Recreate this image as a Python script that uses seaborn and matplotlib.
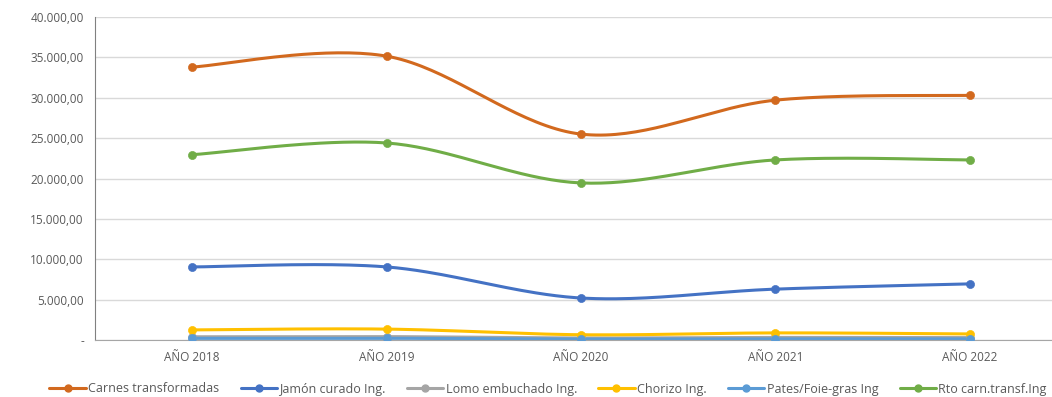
import numpy as np
import pandas as pd
import matplotlib
matplotlib.use("Agg")
import matplotlib.pyplot as plt
import seaborn as sns

years = ["AÑO 2018", "AÑO 2019", "AÑO 2020", "AÑO 2021", "AÑO 2022"]
carnes = [33800, 35150, 25500, 29700, 30300]
jamon = [9050, 9050, 5200, 6300, 6950]
lomo = [400, 420, 250, 320, 300]
chorizo = [1250, 1350, 650, 880, 750]
pates = [200, 210, 120, 150, 140]
rto = [22950, 24400, 19450, 22300, 22300]

series = {
    "Carnes transformadas": (carnes, "#D2691E"),
    "Jamón curado Ing.": (jamon, "#4472C4"),
    "Lomo embuchado Ing.": (lomo, "#A5A5A5"),
    "Chorizo Ing.": (chorizo, "#FFC000"),
    "Pates/Foie-gras Ing": (pates, "#5B9BD5"),
    "Rto carn.transf.Ing": (rto, "#70AD47"),
}


def smooth(y, n=40):
    # Catmull-Rom curve through the points, like Excel's smoothed line
    y = np.asarray(y, dtype=float)
    x = np.arange(len(y), dtype=float)
    px = np.concatenate([[x[0]], x, [x[-1]]])
    py = np.concatenate([[y[0]], y, [y[-1]]])
    xs, ys = [], []
    for i in range(1, len(px) - 2):
        t = np.linspace(0, 1, n)
        for p, out in ((px, xs), (py, ys)):
            p0, p1, p2, p3 = p[i - 1], p[i], p[i + 1], p[i + 2]
            out.append(0.5 * ((2 * p1) + (-p0 + p2) * t
                              + (2 * p0 - 5 * p1 + 4 * p2 - p3) * t ** 2
                              + (-p0 + 3 * p1 - 3 * p2 + p3) * t ** 3))
    return np.concatenate(xs), np.concatenate(ys)


sns.set_style("white")
plt.rcParams["font.family"] = ["Open Sans", "DejaVu Sans"]

fig = plt.figure(figsize=(10.52, 3.97), dpi=100)
ax = fig.add_axes([95 / 1052, 57 / 397, 972 / 1052, 323 / 397])

handles = []
for name, (vals, col) in series.items():
    sx, sy = smooth(vals)
    curve = pd.DataFrame({"x": sx, "y": sy})
    sns.lineplot(data=curve, x="x", y="y", ax=ax, color=col, linewidth=2.2,
                 sort=False, estimator=None)
    pts = pd.DataFrame({"x": np.arange(len(years)), "y": vals})
    sns.scatterplot(data=pts, x="x", y="y", ax=ax, color=col, s=34,
                    edgecolor=col, zorder=3)
    h, = ax.plot([], [], color=col, linewidth=2.2, marker="o", markersize=5, label=name)
    handles.append(h)

if ax.get_legend() is not None:
    ax.get_legend().remove()

ax.set_xlim(-0.5, 4.5)
ax.set_ylim(0, 40000)
ax.set_xticks(range(len(years)))
ax.set_xticklabels(years)
yt = np.arange(0, 40001, 5000)
ax.set_yticks(yt)
ax.set_yticklabels(["-"] + [f"{v:,.2f}".replace(",", "X").replace(".", ",").replace("X", ".") for v in yt[1:]])
ax.tick_params(axis="both", labelsize=8.5, colors="#595959", length=0, pad=8)
ax.yaxis.grid(True, color="#D9D9D9", linewidth=1)
ax.set_xlabel("")
ax.set_ylabel("")
for s in ["top", "right"]:
    ax.spines[s].set_visible(False)
ax.spines["left"].set_color("#808080")
ax.spines["bottom"].set_color("#A6A6A6")

fig.legend(handles=handles, loc="center", bbox_to_anchor=(548 / 1052, 1 - 389 / 397),
           ncol=6, frameon=False, fontsize=9.0, labelcolor="#595959",
           handlelength=2.9, handletextpad=0.2, columnspacing=1.7)

fig.savefig("out.png", dpi=100)
